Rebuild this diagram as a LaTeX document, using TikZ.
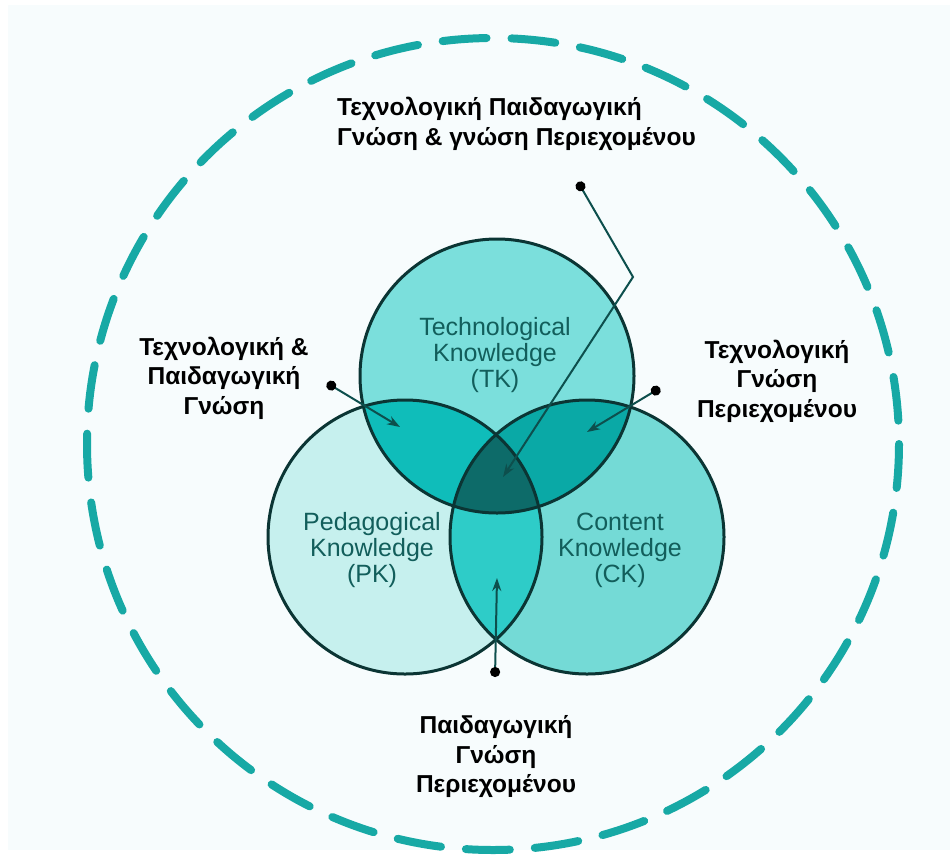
\documentclass[tikz,border=0pt]{standalone}
\usepackage{fontspec}
\setmainfont{Liberation Sans}
\usetikzlibrary{arrows.meta}

\definecolor{paper}{HTML}{F7FCFD}
\definecolor{ringteal}{HTML}{17A9A5}
\definecolor{edge}{HTML}{0B3534}
\definecolor{knowtext}{HTML}{125E5B}
\definecolor{pointline}{HTML}{0D4F4D}
\definecolor{tkfill}{HTML}{7BDFDC}
\definecolor{pkfill}{HTML}{C6F0EE}
\definecolor{ckfill}{HTML}{74DAD6}
\definecolor{tpfill}{HTML}{0FBDBA}
\definecolor{tcfill}{HTML}{0AA9A6}
\definecolor{pcfill}{HTML}{2ECCC8}
\definecolor{tpcfill}{HTML}{0D6B69}

\tikzset{
  greek/.style={font=\bfseries\fontsize{24.5}{29.5}\selectfont, align=center, inner sep=0pt},
  english/.style={font=\fontsize{25}{26}\selectfont, text=knowtext, align=center, inner sep=0pt},
  outline/.style={draw=edge, line width=3pt},
  ring/.style={draw=ringteal, line width=8pt, line cap=round, dash pattern=on 44pt off 25pt},
  pointer/.style={draw=pointline, line width=2pt,
    {Circle[length=10pt,color=black]}-{Stealth[length=13pt,width=9pt]}}
}

\begin{document}
\begin{tikzpicture}[x=1pt,y=-1pt]
\useasboundingbox (0,0) rectangle (950,855);
\fill[paper] (8,5) rectangle (950,850);

\draw[ring] (493,444) circle (406);

\coordinate (tk) at (497,376);
\coordinate (pk) at (405,537);
\coordinate (ck) at (587,537);

% the three sets and their overlaps
\fill[pkfill] (pk) circle (137);
\fill[ckfill] (ck) circle (137);
\fill[tkfill] (tk) circle (137);
\begin{scope}
  \clip (tk) circle (137);
  \fill[tpfill] (pk) circle (137);
  \fill[tcfill] (ck) circle (137);
\end{scope}
\begin{scope}
  \clip (pk) circle (137);
  \fill[pcfill] (ck) circle (137);
  \clip (tk) circle (137);
  \fill[tpcfill] (ck) circle (137);
\end{scope}
\draw[outline] (tk) circle (137);
\draw[outline] (pk) circle (137);
\draw[outline] (ck) circle (137);

\node[english] (tk-text) at (495,355) {Technological\\Knowledge\\(TK)};
\node[english] (pk-text) at (372,550) {Pedagogical\\Knowledge\\(PK)};
\node[english] (ck-text) at (620,550) {Content\\Knowledge\\(CK)};

\node[greek, align=left, anchor=west] (tpck) at (337,124) {Τεχνολογική Παιδαγωγική\\Γνώση \& γνώση Περιεχομένου};
\node[greek] (tpk) at (224,378) {Τεχνολογική \&\\Παιδαγωγική\\Γνώση};
\node[greek] (tck) at (777,381) {Τεχνολογική\\Γνώση\\Περιεχομένου};
\node[greek] (pck) at (496,757) {Παιδαγωγική\\Γνώση\\Περιεχομένου};

\coordinate (tpck-dot) at (578,182);
\coordinate (tpck-bend) at (633,277);
\coordinate (tpck-end) at (503,477);
\coordinate (tpk-dot) at (327,383);
\coordinate (tpk-end) at (400,427);
\coordinate (tck-dot) at (660,388);
\coordinate (tck-end) at (587,432);
\coordinate (pck-dot) at (495,677);
\coordinate (pck-end) at (497,578);

\draw[pointer] (tpck-dot) -- (tpck-bend) -- (tpck-end);
\draw[pointer] (tpk-dot) -- (tpk-end);
\draw[pointer] (tck-dot) -- (tck-end);
\draw[pointer] (pck-dot) -- (pck-end);
\end{tikzpicture}
\end{document}
